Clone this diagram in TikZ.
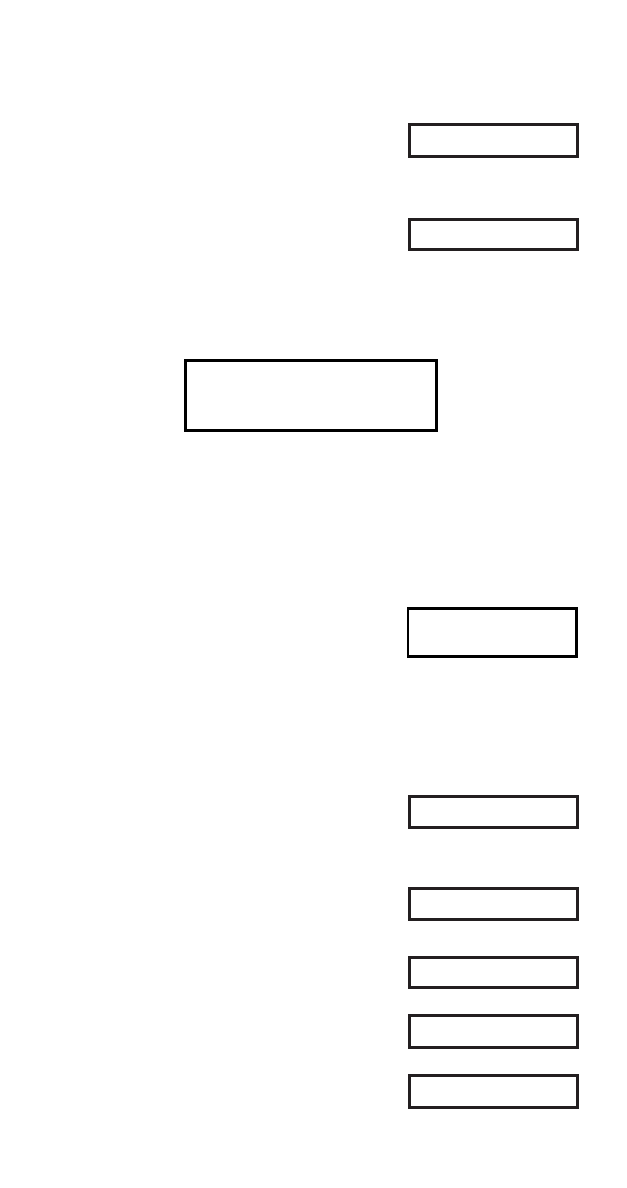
\documentclass[tikz,border=0pt]{standalone}
\definecolor{boxgray}{HTML}{231F20}
\begin{document}
\begin{tikzpicture}[x=1bp,y=-1bp,
  graybox/.style={draw=boxgray,line width=3bp,inner sep=0pt,outer sep=0pt,minimum width=168bp},
  blackbox/.style={draw=black,line width=2.8bp,inner sep=0pt,outer sep=0pt}]
\useasboundingbox (0,0) rectangle (627,1188);
\node[graybox,minimum height=32bp] (b1) at (493.5,140.5) {};
\node[graybox,minimum height=30bp] (b2) at (493.5,234) {};
\node[blackbox,minimum width=251bp,minimum height=70bp] (big) at (310.8,395.3) {};
\node[blackbox,minimum width=168.3bp,minimum height=47.6bp] (mid) at (492.2,632.5) {};
\node[graybox,minimum height=31.3bp] (c1) at (493.3,812.2) {};
\node[graybox,minimum height=31.3bp] (c2) at (493.3,903.8) {};
\node[graybox,minimum height=30bp] (c3) at (493.3,972.5) {};
\node[graybox,minimum height=32bp] (c4) at (493.3,1031.5) {};
\node[graybox,minimum height=32.3bp] (c5) at (493.3,1091.3) {};
\end{tikzpicture}
\end{document}
